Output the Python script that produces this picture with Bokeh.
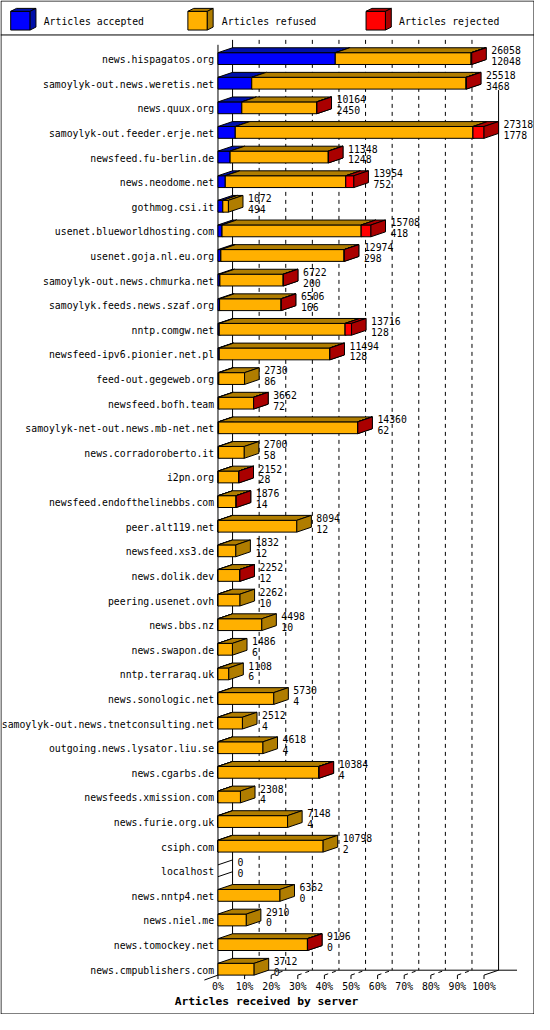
import numpy as np
from bokeh.core.properties import value
from bokeh.embed import file_html
from bokeh.models import ColumnDataSource, Range1d
from bokeh.plotting import figure
from bokeh.resources import INLINE

# --- data ---
servers = [
    "news.hispagatos.org", "samoylyk-out.news.weretis.net", "news.quux.org",
    "samoylyk-out.feeder.erje.net", "newsfeed.fu-berlin.de", "news.neodome.net",
    "gothmog.csi.it", "usenet.blueworldhosting.com", "usenet.goja.nl.eu.org",
    "samoylyk-out.news.chmurka.net", "samoylyk.feeds.news.szaf.org", "nntp.comgw.net",
    "newsfeed-ipv6.pionier.net.pl", "feed-out.gegeweb.org", "newsfeed.bofh.team",
    "samoylyk-net-out.news.mb-net.net", "news.corradoroberto.it", "i2pn.org",
    "newsfeed.endofthelinebbs.com", "peer.alt119.net", "newsfeed.xs3.de",
    "news.dolik.dev", "peering.usenet.ovh", "news.bbs.nz", "news.swapon.de",
    "nntp.terraraq.uk", "news.sonologic.net", "samoylyk-out.news.tnetconsulting.net",
    "outgoing.news.lysator.liu.se", "news.cgarbs.de", "newsfeeds.xmission.com",
    "news.furie.org.uk", "csiph.com", "localhost", "news.nntp4.net", "news.niel.me",
    "news.tomockey.net", "news.cmpublishers.com",
]
total = [26058, 25518, 10164, 27318, 11348, 13954, 1072, 15708, 12974, 6722,
         6506, 13716, 11494, 2730, 3662, 14360, 2700, 2152, 1876, 8094,
         1832, 2252, 2262, 4498, 1486, 1108, 5730, 2512, 4618, 10384,
         2308, 7148, 10798, 0, 6362, 2910, 9196, 3712]
accepted = [12048, 3468, 2450, 1778, 1248, 752, 494, 418, 298, 200,
            166, 128, 128, 86, 72, 62, 58, 28, 14, 12,
            12, 12, 10, 10, 6, 6, 4, 4, 4, 4,
            4, 4, 2, 0, 0, 0, 0, 0]
# estimated from the width of the red part
rejected = [60, 40, 20, 1130, 20, 830, 0, 1000, 15, 20,
            20, 660, 20, 0, 10, 30, 0, 10, 10, 0,
            0, 10, 0, 0, 0, 0, 0, 0, 0, 10,
            0, 0, 0, 0, 0, 0, 10, 0]
refused = [t - a - r for t, a, r in zip(total, accepted, rejected)]

series = ["Articles accepted", "Articles refused", "Articles rejected"]
front_colors = ["#0000FF", "#FFB000", "#FF0000"]
dark_colors = ["#0010AA", "#B07D00", "#AA0000"]
pct_ticks = [0, 10, 20, 30, 40, 50, 60, 70, 80, 90, 100]
title = "Articles received by server"

# --- layout (reference pixels) ---
W, H = 550, 1030
X0, SPAN = 224, 274          # front 0% and length of 100%
DEPTH_X, DEPTH_Y = 15, 5
ROW0, ROWH, HALF = 59, 25, 6

vmax = max(total)
k = vmax / SPAN


def X(px):
    return (px - X0) * k


def Y(py):
    return (py - ROW0) / ROWH


dx = DEPTH_X * k
dy = DEPTH_Y / ROWH
h = HALF / ROWH

p = figure(width=534, height=1014, x_range=Range1d(X(0), X(W)), y_range=Range1d(Y(H), Y(0)),
           toolbar_location=None, output_backend="svg", min_border=0,
           x_axis_location=None, y_axis_location=None)
p.grid.visible = False
p.outline_line_color = None
p.background_fill_color = "white"
p.border_fill_color = "white"

FONT = value("DejaVu Sans Mono")

# grid (back plane) and 3D ticks
grid_x = [t / 100 * vmax for t in pct_ticks[1:-1]]
p.segment(x0=[g + dx for g in grid_x], y0=[Y(40)] * len(grid_x),
          x1=[g + dx for g in grid_x], y1=[Y(985)] * len(grid_x),
          line_color="black", line_dash="4 4")
p.segment(x0=grid_x, y0=[Y(990)] * len(grid_x),
          x1=[g + dx for g in grid_x], y1=[Y(985)] * len(grid_x),
          line_color="black", line_dash="4 4")

tick_x = [t / 100 * vmax for t in pct_ticks]
sx0 = [dx, vmax + dx, 0, dx, vmax, X(210), X(0)] + tick_x
sy0 = [Y(40), Y(91), Y(45), Y(985), Y(990), Y(995), Y(35)] + [Y(990)] * len(tick_x)
sx1 = [dx, vmax + dx, 0, X(532), vmax + dx, 0, X(W)] + tick_x
sy1 = [Y(985), Y(985), Y(990), Y(985), Y(985), Y(990), Y(35)] + [Y(994)] * len(tick_x)
p.segment(x0=sx0, y0=sy0, x1=sx1, y1=sy1, line_color="black")

# 3D bars: front, top and side face for each stacked part
xs, ys, fc = [], [], []
for i in range(len(servers)):
    starts = [0, accepted[i], accepted[i] + refused[i]]
    ends = [accepted[i], accepted[i] + refused[i], total[i]]
    for j in range(3):
        a, b = starts[j], ends[j]
        if b <= a:
            continue
        xs += [[a, b, b, a], [a, b, b + dx, a + dx], [b, b, b + dx, b + dx]]
        ys += [[i + h, i + h, i - h, i - h],
               [i - h, i - h, i - h - dy, i - h - dy],
               [i + h, i - h, i - h - dy, i + h - dy]]
        fc += [front_colors[j], dark_colors[j], dark_colors[j]]

empty = [i for i in range(len(servers)) if total[i] == 0]
p.segment(x0=[0] * len(empty) * 2, x1=[dx] * len(empty) * 2,
          y0=[i - h for i in empty] + [i + h for i in empty],
          y1=[i - h - dy for i in empty] + [i + h - dy for i in empty],
          line_color="black")

# legend cubes
leg_x = [10.5, 193, 376.5]
leg_tx = [44.5, 228, 410.5]
for j in range(3):
    lx, lt, lb = leg_x[j], 11, 30
    xs += [[X(lx), X(lx + 20), X(lx + 20), X(lx)],
           [X(lx), X(lx + 20), X(lx + 26), X(lx + 6)],
           [X(lx + 20), X(lx + 20), X(lx + 26), X(lx + 26)]]
    ys += [[Y(lb), Y(lb), Y(lt), Y(lt)],
           [Y(lt), Y(lt), Y(lt - 3), Y(lt - 3)],
           [Y(lb), Y(lt), Y(lt - 3), Y(lb - 3)]]
    fc += [front_colors[j], dark_colors[j], dark_colors[j]]

p.patches(xs="xs", ys="ys", fill_color="fc", line_color="black", line_width=1,
          source=ColumnDataSource(dict(xs=xs, ys=ys, fc=fc)))

# outer border
p.quad(left=X(0.5), right=X(W - 0.5), top=Y(0.5), bottom=Y(H - 0.5),
       fill_color=None, line_color="black")

# texts
rows = list(range(len(servers)))
p.text(x=[X(220)] * len(servers), y=[r + 0.04 for r in rows], text=servers,
       text_font=FONT, text_font_size="9.8px", text_align="right", text_baseline="middle",
       text_color="black")
lab_x = [t + dx for t in total]
p.text(x=lab_x, y=[r - 0.34 for r in rows], text=[str(t) for t in total], x_offset=5,
       text_font=FONT, text_font_size="9.8px", text_baseline="middle", text_color="black")
p.text(x=lab_x, y=[r + 0.1 for r in rows], text=[str(a) for a in accepted], x_offset=5,
       text_font=FONT, text_font_size="9.8px", text_baseline="middle", text_color="black")
p.text(x=tick_x, y=[Y(1002)] * len(tick_x), text=[f"{t}%" for t in pct_ticks],
       text_font=FONT, text_font_size="9.8px", text_align="center", text_baseline="middle",
       text_color="black")
p.text(x=[X(x) for x in leg_tx], y=[Y(21)] * 3, text=series,
       text_font=FONT, text_font_size="9.8px", text_baseline="middle", text_color="black")
p.text(x=[X(274)], y=[Y(1017)], text=[title], text_font=FONT, text_font_size="11.3px",
       text_font_style="bold", text_align="center", text_baseline="middle", text_color="black")

open("out.html", "w").write(file_html(p, INLINE))
